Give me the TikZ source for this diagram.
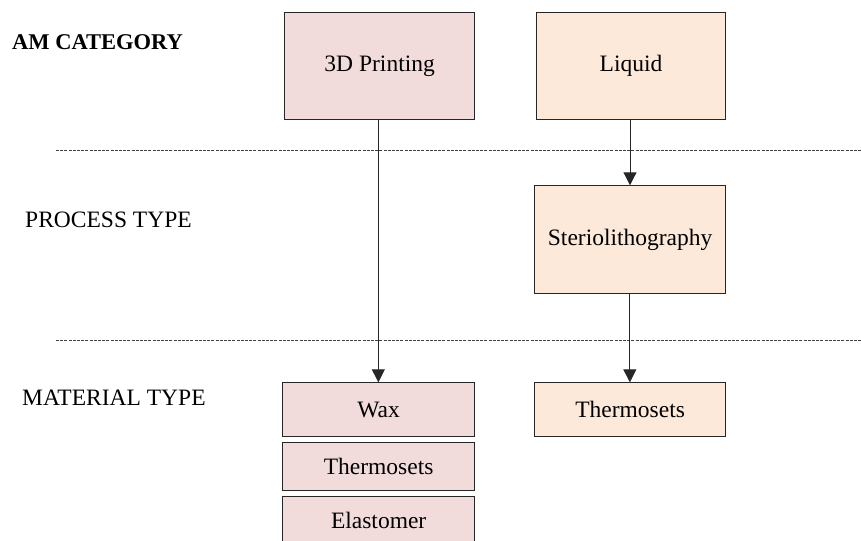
\documentclass[tikz,border=0pt]{standalone}
\usepackage{fontspec}
\setmainfont{Liberation Serif}
\usetikzlibrary{arrows.meta,calc}
\definecolor{pinkfill}{HTML}{F2DCDB}
\definecolor{peachfill}{HTML}{FDE9D9}
\tikzset{
  box/.style={draw=black!85, line width=1bp, inner sep=0pt, anchor=north west,
    font=\fontsize{23.5bp}{28bp}\selectfont},
  pinkbox/.style={box, fill=pinkfill},
  peachbox/.style={box, fill=peachfill},
  rowlabel/.style={anchor=base west, inner sep=0pt, font=\fontsize{23.5bp}{28bp}\selectfont},
  sep/.style={draw=black!75, line width=0.7bp, dash pattern=on 3bp off 1.2bp},
  conn/.style={draw=black!85, line width=1bp, -{Triangle[length=13bp,width=13bp]}}
}
\begin{document}
\begin{tikzpicture}[x=1bp,y=-1bp]
\useasboundingbox (0,0) rectangle (861,541);
\clip (0,0) rectangle (861,541);
% separators
\draw[sep] (56,150) -- (861,150);
\draw[sep] (56,340) -- (861,340);
% row labels
\node[rowlabel, font=\fontsize{22.5bp}{27bp}\selectfont\bfseries] (lab1) at (12,49.3) {AM CATEGORY};
\node[rowlabel] (lab2) at (25,227.7) {PROCESS TYPE};
\node[rowlabel] (lab3) at (22,405) {MATERIAL TYPE};
% boxes
\node[pinkbox, minimum width=189.7bp, minimum height=107bp] (print) at (284.3,12) {3D Printing};
\node[peachbox, minimum width=189.6bp, minimum height=107bp] (liquid) at (535.7,12) {Liquid};
\node[peachbox, minimum width=191.3bp, minimum height=107.4bp] (stereo) at (534,185.3) {Steriolithography};
\node[pinkbox, minimum width=191.7bp, minimum height=53.7bp] (wax) at (282.3,382.3) {Wax};
\node[pinkbox, minimum width=191.7bp, minimum height=48bp] (thermoL) at (282.3,442.3) {Thermosets};
\node[pinkbox, minimum width=191.7bp, minimum height=54bp] (elast) at (282.3,496) {};
\node[font=\fontsize{23.5bp}{28bp}\selectfont, anchor=base, inner sep=0pt] (elasttext) at ($(elast.north)+(0,32)$) {Elastomer};
\node[peachbox, minimum width=191.3bp, minimum height=53.7bp] (thermoR) at (534,382.3) {Thermosets};
% connector end points
\coordinate (p1) at ($(print.south)+(-1.3,0)$);
\coordinate (q1) at (p1 |- wax.north);
\coordinate (p2) at ($(liquid.south)+(-1,0)$);
\coordinate (q2) at (p2 |- stereo.north);
\coordinate (p3) at ($(stereo.south)+(-0.3,0)$);
\coordinate (q3) at (p3 |- thermoR.north);
% connectors
\draw[conn] (p1) -- (q1);
\draw[conn] (p2) -- (q2);
\draw[conn] (p3) -- (q3);
\end{tikzpicture}
\end{document}
